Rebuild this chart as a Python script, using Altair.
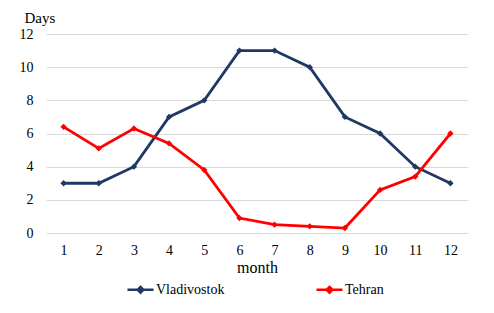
import altair as alt
import pandas as pd

months = [1, 2, 3, 4, 5, 6, 7, 8, 9, 10, 11, 12]
vladivostok = [3, 3, 4, 7, 8, 11, 11, 10, 7, 6, 4, 3]
tehran = [6.4, 5.1, 6.3, 5.4, 3.8, 0.9, 0.5, 0.4, 0.3, 2.6, 3.4, 6.0]
series = ["Vladivostok", "Tehran"]
colors = ["#1f3864", "#ff0000"]
y_ticks = [0, 2, 4, 6, 8, 10, 12]

rows = []
for name, vals in zip(series, [vladivostok, tehran]):
    for m, v in zip(months, vals):
        rows.append({"month": m, "days": v, "city": name})
df = pd.DataFrame(rows)

font = "Liberation Serif"

x = alt.X("month:O", scale=alt.Scale(type="point", padding=0.5),
          axis=alt.Axis(title="month", labelAngle=0, ticks=False, domain=False,
                        labelFontSize=14, titleFontSize=16, labelPadding=10,
                        titlePadding=2, titleFontWeight="normal", grid=False,
                        labelColor="#000000", titleColor="#000000",
                        labelFont=font, titleFont=font))
y = alt.Y("days:Q", scale=alt.Scale(domain=[0, 12], nice=False),
          axis=alt.Axis(title="Days", values=y_ticks, ticks=False, domain=False,
                        labelFontSize=14, labelPadding=13, gridColor="#d9d9d9",
                        gridWidth=1, titleAngle=0, titleAlign="left",
                        titleBaseline="alphabetic", titleX=-22, titleY=-12,
                        titleFontSize=15, titleFontWeight="normal",
                        labelColor="#000000", titleColor="#000000",
                        labelFont=font, titleFont=font))
color = alt.Color("city:N", scale=alt.Scale(domain=series, range=colors),
                  legend=alt.Legend(title=None, orient="none", direction="horizontal",
                                    legendX=80, legendY=241, columnPadding=86,
                                    symbolType="M-1,0L1,0M0,-0.22L0.22,0L0,0.22L-0.22,0Z",
                                    symbolSize=676, symbolStrokeWidth=2.5,
                                    labelFontSize=14, labelFont=font, labelOffset=1,
                                    labelColor="#000000"))

base = alt.Chart(df).encode(x=x, y=y, color=color)
lines = base.mark_line(strokeWidth=2.8)
pts = base.mark_point(shape="diamond", filled=True, size=40, opacity=1)

chart = alt.layer(lines, pts).properties(
    width=422, height=199,
    autosize=alt.AutoSizeParams(type="none"),
    padding={"left": 38, "top": 26, "right": 18, "bottom": 72},
    background="white",
).configure_view(stroke=None)

chart.save("out.html", embed_options={"renderer": "svg", "actions": False})
